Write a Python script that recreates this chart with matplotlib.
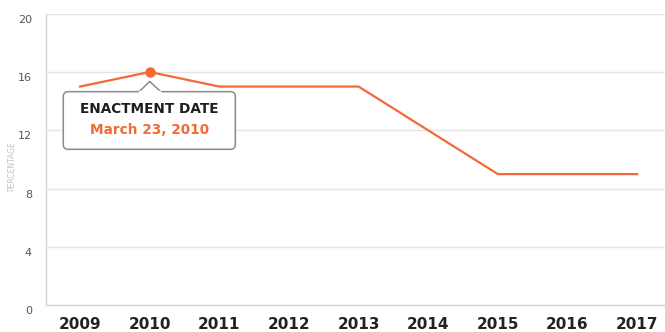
import matplotlib.pyplot as plt
import matplotlib.transforms as mtransforms
from matplotlib.patches import FancyBboxPatch, Polygon

# data
years = [2009, 2010, 2011, 2012, 2013, 2014, 2015, 2016, 2017]
percent = [15, 16, 15, 15, 15, 12, 9, 9, 9]
y_ticks = [0, 4, 8, 12, 16, 20]
enact_year = 2010
enact_value = 16
callout_title = "ENACTMENT DATE"
callout_date = "March 23, 2010"

orange = "#f26a36"
grid_c = "#e4e4e4"

fig = plt.figure(figsize=(6.65, 3.32), dpi=100)
ax = fig.add_axes([0.069, 0.080, 0.931, 0.879])

ax.plot(years, percent, color=orange, lw=1.6, zorder=3)
ax.plot([enact_year], [enact_value], "o", color=orange, ms=6.5, zorder=4)

ax.set_xlim(2008.51, 2017.4)
ax.set_ylim(0, 20)
ax.set_xticks(years)
ax.set_yticks(y_ticks)
ax.grid(axis="y", color=grid_c, lw=1)
ax.set_axisbelow(True)
for s in ["top", "right"]:
    ax.spines[s].set_visible(False)
for s in ["left", "bottom"]:
    ax.spines[s].set_color("#d6d6d6")
    ax.spines[s].set_linewidth(1)

ax.tick_params(length=0)
ax.tick_params(axis="x", labelsize=11, labelcolor="#222222", pad=8)
ax.tick_params(axis="y", labelsize=8, labelcolor="#555555", pad=10)
for lab in ax.get_xticklabels():
    lab.set_fontweight("bold")
off = mtransforms.ScaledTranslation(0, -5 / 100, fig.dpi_scale_trans)
for lab in ax.get_yticklabels():
    lab.set_transform(lab.get_transform() + off)

fig.text(0.018, 0.5, "PERCENTAGE", rotation=90, fontsize=5.5,
         color="#c4c4c4", ha="center", va="center")

# callout box
bx0, bx1 = 2008.76, 2011.23
by0, by1 = 10.7, 14.65
box = FancyBboxPatch((bx0, by0), bx1 - bx0, by1 - by0,
                     boxstyle="round,pad=0,rounding_size=0.07",
                     mutation_aspect=4.8, facecolor="white",
                     edgecolor="#8a8a8a", lw=1.1, zorder=5)
ax.add_patch(box)
notch = Polygon([(enact_year - 0.15, by1), (enact_year, 15.35),
                 (enact_year + 0.16, by1)], closed=False,
                facecolor="white", edgecolor="#8a8a8a", lw=1.1, zorder=6)
ax.add_patch(notch)
ax.plot([enact_year - 0.14, enact_year + 0.15], [by1, by1],
        color="white", lw=1.6, zorder=7)

ax.text(enact_year, 13.45, callout_title, ha="center", va="center",
        fontsize=9.8, fontweight="bold", color="#1e1e1e", zorder=8)
ax.text(enact_year, 12.05, callout_date, ha="center", va="center",
        fontsize=9.8, fontweight="bold", color=orange, zorder=8)

fig.savefig("out.png", dpi=100)
